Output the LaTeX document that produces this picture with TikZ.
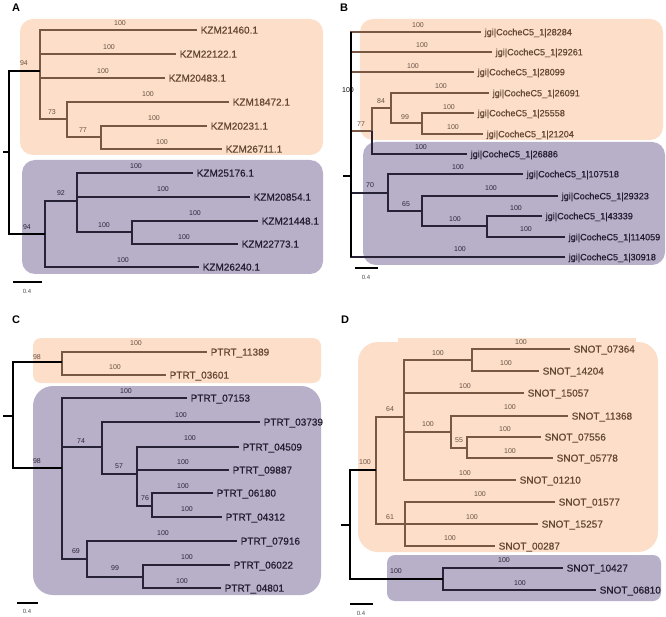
\documentclass[tikz,border=0pt]{standalone}
\usepackage{fontspec}
\newfontfamily\lsans{Liberation Sans}
\newfontfamily\lsansm[FakeBold=0.6]{Liberation Sans}
\newcommand\leaffnt{\lsansm\fontsize{10}{12}\selectfont}
\newcommand\leafbfnt{\lsansm\fontsize{9.1}{11}\selectfont}
\newcommand\bsfnt{\lsans\fontsize{7}{8}\selectfont}
\newcommand\panelfnt{\lsans\bfseries\fontsize{11}{13}\selectfont}
\newcommand\scfnt{\lsans\fontsize{6}{7}\selectfont}
\definecolor{ofill}{RGB}{252,222,201}
\definecolor{pfill}{RGB}{184,175,201}
\definecolor{obr}{RGB}{120,88,66}
\definecolor{pbr}{RGB}{40,34,54}
\definecolor{otxt}{RGB}{100,72,52}
\definecolor{ptxt}{RGB}{36,30,48}
\definecolor{obs}{RGB}{105,82,66}
\definecolor{pbs}{RGB}{44,38,56}
\tikzset{
  ob/.style={draw=obr, line width=1.5pt},
  pb/.style={draw=pbr, line width=1.5pt},
  kb/.style={draw=black, line width=1.5pt},
  leafo/.style={anchor=west, inner xsep=3.5pt, inner ysep=0pt, text height=7.2pt, text depth=0pt, font=\leaffnt, text=otxt},
  leafp/.style={leafo, text=ptxt},
  leafbo/.style={leafo, font=\leafbfnt, text height=6.6pt},
  leafbp/.style={leafbo, text=ptxt},
  bso/.style={inner sep=0pt, font=\bsfnt, text=obs},
  bsp/.style={inner sep=0pt, font=\bsfnt, text=pbs},
  panel/.style={inner sep=0pt, font=\panelfnt},
  sclab/.style={inner sep=0pt, font=\scfnt, text=black!70},
}
\begin{document}
\begin{tikzpicture}[x=1pt,y=-1pt]
\useasboundingbox (0,0) rectangle (666,617);
\fill[white] (0,0) rectangle (666,617);

% ================= Panel A =================
\node[panel] (pA) at (16,8) {A};
\fill[ofill, rounded corners=13pt] (20,19) rectangle (323,155);
\fill[pfill, rounded corners=13pt] (22,160) rectangle (323,274);
\coordinate (Ar) at (9,152); \coordinate (Atk) at (3,152);
\coordinate (Au) at (40,71); \coordinate (A73) at (67,119); \coordinate (A77) at (101,137);
\coordinate (Al) at (45,234); \coordinate (A92) at (77,201); \coordinate (A100) at (132,232);
\node[leafo] (A1) at (197,30) {KZM21460.1};
\node[leafo] (A2) at (176,54) {KZM22122.1};
\node[leafo] (A3) at (165,78) {KZM20483.1};
\node[leafo] (A4) at (229,102) {KZM18472.1};
\node[leafo] (A5) at (207,126) {KZM20231.1};
\node[leafo] (A6) at (222,149) {KZM26711.1};
\node[leafp] (A8) at (193,173) {KZM25176.1};
\node[leafp] (A9) at (250,197) {KZM20854.1};
\node[leafp] (A10) at (258,221) {KZM21448.1};
\node[leafp] (A11) at (238,244) {KZM22773.1};
\node[leafp] (A7) at (199,267) {KZM26240.1};
\draw[ob] (Au) |- (A1.west) (Au) |- (A2.west) (Au) |- (A3.west) (Au) |- (A73)
  (A73) |- (A4.west) (A73) |- (A77) (A77) |- (A5.west) (A77) |- (A6.west);
\draw[pb] (Al) |- (A92) (Al) |- (A7.west) (A92) |- (A8.west) (A92) |- (A9.west)
  (A92) |- (A100) (A100) |- (A10.west) (A100) |- (A11.west);
\draw[kb] (Atk) -- (Ar) (Au) -| (Ar) (Al) -| (Ar);
\node[bso] (Ab1) at (120,23) {100};
\node[bso] (Ab2) at (109,47) {100};
\node[bso] (Ab3) at (103,71) {100};
\node[bso] (Ab4) at (148,94) {100};
\node[bso] (Ab5) at (154,118) {100};
\node[bso] (Ab6) at (162,142) {100};
\node[bso] (Ab94a) at (24,63) {94};
\node[bso] (Ab73) at (52,112) {73};
\node[bso] (Ab77) at (83,130) {77};
\node[bsp] (Ab8) at (136,166) {100};
\node[bsp] (Ab9) at (163,189) {100};
\node[bsp] (Ab10) at (195,213) {100};
\node[bsp] (Ab11) at (184,237) {100};
\node[bsp] (Ab7) at (123,260) {100};
\node[bsp] (Ab94b) at (27,227) {94};
\node[bsp] (Ab92) at (61,193) {92};
\node[bsp] (Ab100) at (104,225) {100};
\coordinate (As1) at (13,282); \coordinate (As2) at (42,282);
\draw[kb] (As1) -- (As2);
\node[sclab] (Asl) at (27,291) {0.4};

% ================= Panel B =================
\node[panel] (pB) at (344,8) {B};
\fill[ofill, rounded corners=13pt] (360,19) rectangle (663,140);
\fill[pfill, rounded corners=13pt] (363,142) rectangle (665,265);
\coordinate (Br) at (351,176); \coordinate (Btk) at (343,176);
\coordinate (B77) at (372,131); \coordinate (B84) at (391,108); \coordinate (B99) at (422,123);
\coordinate (B70) at (388,193); \coordinate (B65) at (422,211); \coordinate (B100) at (487,226);
\node[leafbo] (B1) at (481,32) {jgi|CocheC5\_1|28284};
\node[leafbo] (B2) at (492,52) {jgi|CocheC5\_1|29261};
\node[leafbo] (B3) at (474,72) {jgi|CocheC5\_1|28099};
\node[leafbo] (B4) at (489,93) {jgi|CocheC5\_1|26091};
\node[leafbo] (B5) at (474,113) {jgi|CocheC5\_1|25558};
\node[leafbo] (B6) at (483,134) {jgi|CocheC5\_1|21204};
\node[leafbp] (B7) at (467,154) {jgi|CocheC5\_1|26886};
\node[leafbp] (B8) at (523,174) {jgi|CocheC5\_1|107518};
\node[leafbp] (B9) at (558,196) {jgi|CocheC5\_1|29323};
\node[leafbp] (B10) at (542,216) {jgi|CocheC5\_1|43339};
\node[leafbp] (B11) at (565,237) {jgi|CocheC5\_1|114059};
\node[leafbp] (B12) at (565,257) {jgi|CocheC5\_1|30918};
\draw[ob] (Br) |- (B1.west) (Br) |- (B2.west) (Br) |- (B3.west) (Br) |- (B77)
  (B77) |- (B84) (B84) |- (B4.west) (B84) |- (B99) (B99) |- (B5.west) (B99) |- (B6.west);
\draw[pb] (B77) |- (B7.west) (Br) |- (B70) (Br) |- (B12.west)
  (B70) |- (B8.west) (B70) |- (B65) (B65) |- (B9.west) (B65) |- (B100)
  (B100) |- (B10.west) (B100) |- (B11.west);
\draw[kb] (Btk) -- (Br) (Br |- B1.west) -- (Br |- B12.west);
\node[bso] (Bb1) at (418,25) {100};
\node[bso] (Bb2) at (422,45) {100};
\node[bso] (Bb3) at (413,66) {100};
\node[bso] (Bb4) at (441,86) {100};
\node[bso] (Bb5) at (449,107) {100};
\node[bso] (Bb6) at (453,127) {100};
\node[bso] (Bb84) at (381,101) {84};
\node[bso] (Bb99) at (405,117) {99};
\node[bso] (Bb77) at (361,124) {77};
\node[inner sep=0pt, font=\bsfnt, text=black] (Bb100r) at (348,90) {100};
\node[bsp] (Bb7) at (421,147) {100};
\node[bsp] (Bb8) at (458,167) {100};
\node[bsp] (Bb9) at (491,188) {100};
\node[bsp] (Bb10) at (516,208) {100};
\node[bsp] (Bb11) at (526,229) {100};
\node[bsp] (Bb12) at (460,249) {100};
\node[bsp] (Bb70) at (370,185) {70};
\node[bsp] (Bb65) at (406,204) {65};
\node[bsp] (Bb100) at (455,219) {100};
\coordinate (Bs1) at (355,268); \coordinate (Bs2) at (378,268);
\draw[kb] (Bs1) -- (Bs2);
\node[sclab] (Bsl) at (366,277) {0.4};

% ================= Panel C =================
\node[panel] (pC) at (16,320) {C};
\fill[ofill, rounded corners=8pt] (33,338) rectangle (321,383);
\fill[pfill, rounded corners=20pt] (33,386) rectangle (321,595);
\coordinate (Cr) at (13,416); \coordinate (Ctk) at (3,416);
\coordinate (C98a) at (62,362); \coordinate (C98b) at (62,468);
\coordinate (C74) at (102,447); \coordinate (C57) at (137,474); \coordinate (C76) at (152,506);
\coordinate (C69) at (87,559); \coordinate (C99) at (143,577);
\node[leafo] (C1) at (207,352) {PTRT\_11389};
\node[leafo] (C2) at (166,375) {PTRT\_03601};
\node[leafp] (C3) at (187,398) {PTRT\_07153};
\node[leafp] (C4) at (260,422) {PTRT\_03739};
\node[leafp] (C5) at (239,447) {PTRT\_04509};
\node[leafp] (C6) at (229,470) {PTRT\_09887};
\node[leafp] (C7) at (213,493) {PTRT\_06180};
\node[leafp] (C8) at (222,517) {PTRT\_04312};
\node[leafp] (C9) at (237,541) {PTRT\_07916};
\node[leafp] (C10) at (230,565) {PTRT\_06022};
\node[leafp] (C11) at (221,588) {PTRT\_04801};
\draw[ob] (C98a) |- (C1.west) (C98a) |- (C2.west);
\draw[pb] (C98b) |- (C3.west) (C98b) |- (C74) (C98b) |- (C69)
  (C74) |- (C4.west) (C74) |- (C57) (C57) |- (C5.west) (C57) |- (C6.west) (C57) |- (C76)
  (C76) |- (C7.west) (C76) |- (C8.west) (C69) |- (C9.west) (C69) |- (C99)
  (C99) |- (C10.west) (C99) |- (C11.west);
\draw[kb] (Ctk) -- (Cr) (C98a) -| (Cr) (C98b) -| (Cr);
\node[bso] (Cb1) at (136,343) {100};
\node[bso] (Cb2) at (115,367) {100};
\node[bso] (Cb98a) at (37,357) {98};
\node[bsp] (Cb98b) at (37,461) {98};
\node[bsp] (Cb3) at (126,391) {100};
\node[bsp] (Cb4) at (181,415) {100};
\node[bsp] (Cb5) at (190,438) {100};
\node[bsp] (Cb6) at (183,462) {100};
\node[bsp] (Cb7) at (183,486) {100};
\node[bsp] (Cb8) at (187,509) {100};
\node[bsp] (Cb9) at (163,533) {100};
\node[bsp] (Cb10) at (187,557) {100};
\node[bsp] (Cb11) at (182,581) {100};
\node[bsp] (Cb74) at (81,441) {74};
\node[bsp] (Cb57) at (119,466) {57};
\node[bsp] (Cb76) at (145,498) {76};
\node[bsp] (Cb69) at (76,551) {69};
\node[bsp] (Cb99) at (115,568) {99};
\coordinate (Cs1) at (17,603); \coordinate (Cs2) at (38,603);
\draw[kb] (Cs1) -- (Cs2);
\node[sclab] (Csl) at (27,611) {0.4};

% ================= Panel D =================
\node[panel] (pD) at (345,320) {D};
\fill[ofill, rounded corners=20pt] (358,342) rectangle (658,552);
\fill[ofill] (398,338) rectangle (636,350);
\fill[pfill, rounded corners=8pt] (387,555) rectangle (661,601);
\coordinate (Dr) at (350,525); \coordinate (Dtk) at (341,525);
\coordinate (D100a) at (376,470); \coordinate (D64) at (404,417); \coordinate (D100c) at (472,360);
\coordinate (D100d) at (451,432); \coordinate (D55) at (467,448); \coordinate (D61) at (405,524);
\coordinate (D100b) at (443,579);
\node[leafo] (D1) at (570,349) {SNOT\_07364};
\node[leafo] (D2) at (539,371) {SNOT\_14204};
\node[leafo] (D3) at (524,393) {SNOT\_15057};
\node[leafo] (D4) at (568,416) {SNOT\_11368};
\node[leafo] (D5) at (541,437) {SNOT\_07556};
\node[leafo] (D6) at (553,458) {SNOT\_05778};
\node[leafo] (D8) at (516,480) {SNOT\_01210};
\node[leafo] (D9) at (555,502) {SNOT\_01577};
\node[leafo] (D10) at (538,524) {SNOT\_15257};
\node[leafo] (D11) at (495,546) {SNOT\_00287};
\node[leafp] (D12) at (563,568) {SNOT\_10427};
\node[leafp] (D13) at (596,590) {SNOT\_06810};
\draw[ob] (D100a) |- (D64) (D100a) |- (D61)
  (D64) |- (D100c) (D64) |- (D3.west) (D64) |- (D100d) (D64) |- (D8.west)
  (D100c) |- (D1.west) (D100c) |- (D2.west)
  (D100d) |- (D4.west) (D100d) |- (D55) (D55) |- (D5.west) (D55) |- (D6.west)
  (D61) |- (D9.west) (D61) |- (D10.west) (D61) |- (D11.west);
\draw[pb] (D100b) |- (D12.west) (D100b) |- (D13.west);
\draw[kb] (Dtk) -- (Dr) (D100a) -| (Dr) (D100b) -| (Dr);
\node[bso] (Db1) at (521,342) {100};
\node[bso] (Db2) at (506,363) {100};
\node[bso] (Db3) at (465,386) {100};
\node[bso] (Db4) at (510,407) {100};
\node[bso] (Db5) at (505,429) {100};
\node[bso] (Db6) at (510,451) {100};
\node[bso] (Db8) at (465,473) {100};
\node[bso] (Db9) at (480,494) {100};
\node[bso] (Db10) at (472,517) {100};
\node[bso] (Db11) at (450,538) {100};
\node[bso] (Db100c) at (438,353) {100};
\node[bso] (Db100d) at (428,424) {100};
\node[bso] (Db55) at (459,440) {55};
\node[bso] (Db64) at (390,409) {64};
\node[bso] (Db61) at (390,517) {61};
\node[bso] (Db100a) at (365,462) {100};
\node[bsp] (Db100b) at (396,571) {100};
\node[bsp] (Db12) at (504,560) {100};
\node[bsp] (Db13) at (520,583) {100};
\coordinate (Ds1) at (350,604); \coordinate (Ds2) at (373,604);
\draw[kb] (Ds1) -- (Ds2);
\node[sclab] (Dsl) at (361,613) {0.4};
\end{tikzpicture}
\end{document}
